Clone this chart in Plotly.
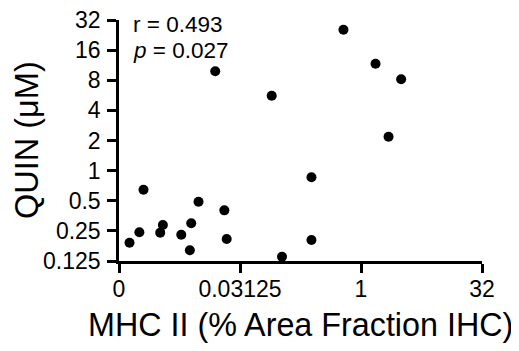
import math
import plotly.graph_objects as go

# Data (MHC II % area fraction vs QUIN µM)
mhc_ii = [0.00132, 0.00175, 0.00197, 0.00318, 0.00343, 0.00581, 0.00773, 0.00743,
          0.00953, 0.01537, 0.01996, 0.02134, 0.0775, 0.1041, 0.242, 0.242,
          0.605, 1.516, 3.158, 2.20]
quin = [0.190, 0.242, 0.645, 0.240, 0.286, 0.229, 0.298, 0.160,
        0.489, 9.83, 0.401, 0.207, 5.61, 0.138, 0.857, 0.203,
        25.6, 11.7, 8.18, 2.18]

x_tickvals = [2 ** -10, 2 ** -5, 1, 32]
x_ticktext = ["0", "0.03125", "1", "32"]
y_tickvals = [0.125, 0.25, 0.5, 1, 2, 4, 8, 16, 32]
y_ticktext = ["0.125", "0.25", "0.5", "1", "2", "4", "8", "16", "32"]

FONT = "Liberation Sans, Arial, sans-serif"

# plot area in page pixels (page has 8px body margin)
PX0, PX1, PY0, PY1 = 119, 482, 20, 261


def px(x):
    return (x - PX0) / (PX1 - PX0)


def py(y):
    return (PY1 - y) / (PY1 - PY0)


fig = go.Figure()
fig.add_trace(go.Scatter(
    x=mhc_ii, y=quin, mode="markers",
    marker=dict(color="black", size=10),
    showlegend=False, cliponaxis=False,
))

axis_common = dict(
    type="log",
    showline=True, linecolor="black", linewidth=2.5,
    ticks="outside", ticklen=9, tickwidth=2.5, tickcolor="black",
    showgrid=False, zeroline=False,
    ticklabeloverflow="allow",
    tickfont=dict(size=23, family=FONT, color="black"),
)

fig.update_layout(
    width=511, height=343, autosize=False,
    margin=dict(l=PX0 - 8, r=519 - PX1, t=PY0 - 8, b=351 - PY1, autoexpand=False),
    paper_bgcolor="white", plot_bgcolor="white",
    font=dict(family=FONT, color="black", size=22),
    xaxis=dict(range=[math.log10(2 ** -10), math.log10(32)],
               tickvals=x_tickvals, ticktext=x_ticktext, ticklabelstandoff=-3,
               **axis_common),
    yaxis=dict(range=[math.log10(0.125), math.log10(32)],
               tickvals=y_tickvals, ticktext=y_ticktext, ticklabelstandoff=2,
               **axis_common),
    annotations=[
        dict(text="MHC II (% Area Fraction IHC)", xref="paper", yref="paper",
             x=px(300), y=py(325), xanchor="center", yanchor="middle",
             showarrow=False, font=dict(size=32.3, family=FONT, color="black")),
        dict(text="QUIN (μM)", xref="paper", yref="paper", textangle=-90,
             x=px(27), y=py(140), xanchor="center", yanchor="middle",
             showarrow=False, font=dict(size=32.5, family=FONT, color="black")),
        dict(text="r = 0.493", xref="paper", yref="paper",
             x=px(131), y=py(24), xanchor="left", yanchor="middle",
             showarrow=False, font=dict(size=22.5, family=FONT, color="black")),
        dict(text="<i>p</i> = 0.027", xref="paper", yref="paper",
             x=px(131), y=py(50), xanchor="left", yanchor="middle",
             showarrow=False, font=dict(size=22.5, family=FONT, color="black")),
    ],
)

fig.write_html("out.html")
